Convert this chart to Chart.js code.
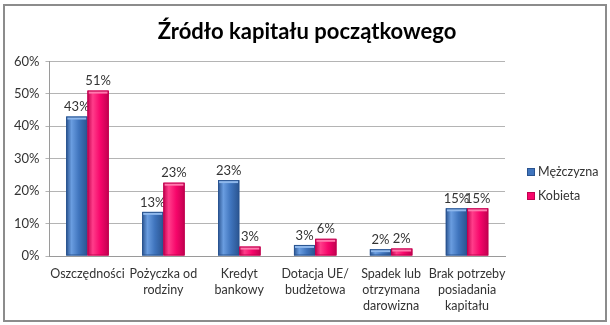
<!DOCTYPE html>
<html>
<head>
<meta charset="utf-8">
<script src="https://cdn.jsdelivr.net/npm/chart.js@4"></script>
<style>
  body { margin: 0; background: #fff; }
  #wrap { position: relative; width: 610px; height: 325px; }
  #chart { position: absolute; left: 0; top: 0; }
  #frame { position: absolute; left: 3px; top: 4px; width: 604px; height: 318px;
           box-sizing: border-box; border: 2px solid #8c8c8c; pointer-events: none; }
</style>
</head>
<body>
<div id="wrap">
  <canvas id="chart" width="610" height="325"></canvas>
  <div id="frame"></div>
</div>
<script>

const categories = [
    "Oszczędności",
    ["Pożyczka od", "rodziny"],
    ["Kredyt", "bankowy"],
    ["Dotacja UE/", "budżetowa"],
    ["Spadek lub", "otrzymana", "darowizna"],
    ["Brak potrzeby", "posiadania", "kapitału"]
];

const seriesNames = ["Mężczyzna", "Kobieta"];

// bar heights
const men = [43, 13.6, 23.4, 3.4, 2.1, 14.7];
const women = [51, 22.6, 2.9, 5.3, 2.3, 14.7];

// labels as printed on the bars
const menLabels = ["43%", "13%", "23%", "3%", "2%", "15%"];
const womenLabels = ["51%", "23%", "3%", "6%", "2%", "15%"];

const yTicks = [0, 10, 20, 30, 40, 50, 60];

const colors = [
    { base: "#3f74bd", dark: "#2a5490", light: "#6a9de0", top: "#8fb8ec" },
    { base: "#f7066b", dark: "#c2004f", light: "#ff3d8a", top: "#ff7aae" }
];

const barLabels = [menLabels, womenLabels];

// shading + value labels, drawn from the bar elements the library laid out
const barDeco = {
    id: "barDeco",
    afterDatasetsDraw(chart) {
        const ctx = chart.ctx;
        chart.data.datasets.forEach((ds, i) => {
            const meta = chart.getDatasetMeta(i);
            const c = colors[i];
            meta.data.forEach((bar, j) => {
                const p = bar.getProps(["x", "y", "base", "width"], true);
                const left = p.x - p.width / 2;
                const h = p.base - p.y;
                const g = ctx.createLinearGradient(left, 0, left + p.width, 0);
                g.addColorStop(0, c.dark);
                g.addColorStop(0.25, c.light);
                g.addColorStop(0.6, c.base);
                g.addColorStop(1, c.dark);
                ctx.save();
                ctx.fillStyle = g;
                ctx.fillRect(left, p.y, p.width, h);
                ctx.fillStyle = c.top;
                ctx.fillRect(left + 1, p.y, p.width - 2, Math.min(3, h));
                ctx.strokeStyle = c.dark;
                ctx.lineWidth = 1;
                ctx.strokeRect(left + 0.5, p.y + 0.5, p.width - 1, h - 1);

                ctx.fillStyle = "#333";
                ctx.font = "13px Lato";
                ctx.textAlign = "center";
                ctx.textBaseline = "bottom";
                ctx.fillText(barLabels[i][j], p.x, p.y - 3);
                ctx.restore();
            });
        });
    }
};

// legend on the right, placed next to the plot area
const sideLegend = {
    id: "sideLegend",
    afterDraw(chart) {
        const ctx = chart.ctx;
        const area = chart.chartArea;
        ctx.save();
        ctx.font = "12.5px Lato";
        ctx.textBaseline = "middle";
        seriesNames.forEach((name, i) => {
            const x = area.right + 22;
            const y = area.bottom - 84 + i * 24;
            ctx.fillStyle = colors[i].base;
            ctx.fillRect(x, y - 4, 8, 8);
            ctx.strokeStyle = colors[i].dark;
            ctx.strokeRect(x + 0.5, y - 3.5, 7, 7);
            ctx.fillStyle = "#333";
            ctx.fillText(name, x + 11, y);
        });
        ctx.restore();
    }
};

Chart.defaults.font.family = "Lato";
Chart.defaults.color = "#333";

const ctx = document.getElementById("chart").getContext("2d");

const chart = new Chart(ctx, {
    type: "bar",
    data: {
        labels: categories,
        datasets: [{
            label: seriesNames[0],
            data: men,
            backgroundColor: colors[0].base,
            borderColor: colors[0].dark,
            borderWidth: 1
        }, {
            label: seriesNames[1],
            data: women,
            backgroundColor: colors[1].base,
            borderColor: colors[1].dark,
            borderWidth: 1
        }]
    },
    options: {
        responsive: false,
        animation: false,
        layout: { padding: { left: 8, right: 4, top: 9, bottom: 1 } },
        datasets: {
            bar: { categoryPercentage: 0.56, barPercentage: 1.0 }
        },
        scales: {
            x: {
                grid: { display: false, drawTicks: false },
                border: { color: "#9a9a9a" },
                ticks: {
                    font: { size: 12.5, lineHeight: 1.28 },
                    color: "#333", maxRotation: 0, autoSkip: false, padding: 10
                }
            },
            y: {
                min: 0,
                max: 60,
                afterBuildTicks: axis => { axis.ticks = yTicks.map(v => ({ value: v })); },
                grid: { color: "#b4b4b4", tickLength: 4 },
                border: { color: "#9a9a9a" },
                ticks: { font: { size: 13 }, color: "#333", padding: 6, callback: v => v + "%" }
            },
            // empty strip on the right that holds the legend
            legendSpace: {
                type: "linear",
                position: "right",
                grid: { display: false, drawTicks: false },
                border: { display: false },
                ticks: { display: false },
                afterFit: axis => { axis.width = 101; }
            }
        },
        plugins: {
            title: {
                display: true,
                text: "Źródło kapitału początkowego",
                color: "#000",
                font: { size: 22, weight: "bold" },
                padding: { top: 10, bottom: 16 }
            },
            legend: { display: false },
            tooltip: { enabled: false }
        }
    },
    plugins: [barDeco, sideLegend]
});

</script>
</body>
</html>
